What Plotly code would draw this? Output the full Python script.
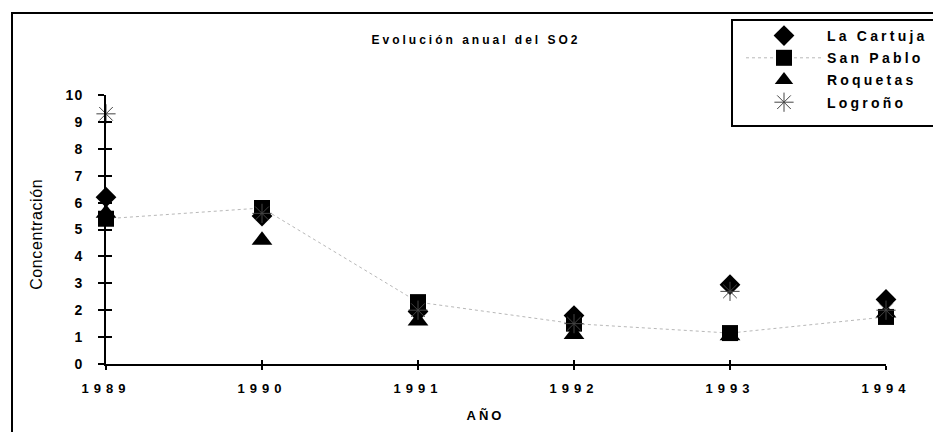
import plotly.graph_objects as go

# data
years = [1989, 1990, 1991, 1992, 1993, 1994]
la_cartuja = [6.2, 5.5, 1.95, 1.8, 2.95, 2.4]
san_pablo = [5.4, 5.8, 2.3, 1.5, 1.15, 1.75]
roquetas = [5.6, 4.6, 1.6, 1.1, 1.05, 1.9]
logrono = [9.3, 5.6, 2.0, 1.5, 2.7, 2.0]
y_ticks = list(range(0, 11))

FONT = 'Arial, Liberation Sans, sans-serif'

# plot area in pixels (933x432 page)
L, R, T, B = 106, 886, 95, 364


def px_x(x):
    return (x - L) / (R - L)


def px_y(y):
    return (B - y) / (B - T)


fig = go.Figure()

fig.add_trace(go.Scatter(
    x=years, y=la_cartuja, name='La Cartuja', mode='markers',
    marker=dict(symbol='diamond', size=16, color='black'),
    legendgroup='a', cliponaxis=False))
fig.add_trace(go.Scatter(
    x=years, y=san_pablo, name='San Pablo', mode='lines+markers',
    line=dict(color='#b8b8b8', width=1, dash='dot'),
    marker=dict(symbol='square', size=16, color='black'),
    legendgroup='b', cliponaxis=False))
fig.add_trace(go.Scatter(
    x=years, y=roquetas, name='Roquetas', mode='markers',
    marker=dict(symbol='triangle-up', size=18, color='black'),
    legendgroup='c', cliponaxis=False))
fig.add_trace(go.Scatter(
    x=years, y=logrono, name='Logroño', mode='markers',
    marker=dict(symbol='asterisk-open', size=16, color='#444444',
                line=dict(color='#444444', width=1)),
    legendgroup='d', cliponaxis=False))
# empty trace so the overlay axes (crossing ticks) get drawn
fig.add_trace(go.Scatter(x=[], y=[], xaxis='x2', yaxis='y2',
                         showlegend=False, hoverinfo='skip'))

axis_common = dict(showgrid=False, zeroline=False, tickcolor='black',
                   tickwidth=1.5)

fig.update_layout(
    width=933, height=432,
    margin=dict(l=L, r=933 - R, t=T, b=432 - B),
    paper_bgcolor='white', plot_bgcolor='white',
    font=dict(family=FONT, color='black'),
    showlegend=True,
    legend=dict(x=px_x(741), y=px_y(20), xanchor='left', yanchor='top',
                bgcolor='rgba(0,0,0,0)', borderwidth=0, itemwidth=76,
                tracegroupgap=1,
                font=dict(family=FONT, size=14, weight='bold')),
    xaxis=dict(range=[1989, 1994], tickvals=years,
               ticktext=[str(y) for y in years],
               showline=True, linecolor='black', linewidth=2,
               ticks='outside', ticklen=4, ticklabelstandoff=7,
               tickfont=dict(size=13, weight='bold'), **axis_common),
    yaxis=dict(range=[0, 10], tickvals=y_ticks,
               showline=True, linecolor='black', linewidth=2,
               ticks='outside', ticklen=6, ticklabelstandoff=12,
               tickfont=dict(size=14, weight='bold'), **axis_common),
    # second pair of axes only to get crossing tick marks
    xaxis2=dict(range=[1989, 1994], tickvals=years, overlaying='x',
                anchor='y2', ticks='inside', ticklen=4,
                showticklabels=False, showline=False, **axis_common),
    yaxis2=dict(range=[0, 10], tickvals=y_ticks, overlaying='y',
                anchor='x2', ticks='inside', ticklen=6,
                showticklabels=False, showline=False, **axis_common),
)

# outer frame and legend box
fig.add_shape(type='rect', xref='paper', yref='paper',
              x0=px_x(12), x1=1.3, y0=-0.6, y1=px_y(13),
              line=dict(color='black', width=2), layer='below')
fig.add_shape(type='rect', xref='paper', yref='paper',
              x0=px_x(732), x1=1.3, y0=px_y(126), y1=px_y(20),
              line=dict(color='black', width=2), fillcolor='white',
              layer='below')

fig.add_annotation(text='Evolución anual del SO2', xref='paper', yref='paper',
                   x=px_x(476), y=px_y(40), xanchor='center', yanchor='middle',
                   showarrow=False, font=dict(size=12, weight='bold'))
fig.add_annotation(text='AÑO', xref='paper', yref='paper',
                   x=px_x(485), y=px_y(415), xanchor='center', yanchor='middle',
                   showarrow=False, font=dict(size=13, weight='bold'))
fig.add_annotation(text='Concentración', xref='paper', yref='paper',
                   x=px_x(37), y=0.48, xanchor='center', yanchor='middle',
                   showarrow=False, textangle=-90, font=dict(size=16))

# the scanned chart uses wide letter spacing on most labels
spacing_js = """
document.body.style.margin = '0';
var gd = document.getElementById('{plot_id}');
function sp(sel, v) {
  gd.querySelectorAll(sel).forEach(function(t) { t.style.letterSpacing = v; });
}
sp('.legendtext', '3.2px');
sp('.xtick text', '5px');
sp('.ytick text', '1px');
var ann = gd.querySelectorAll('.annotation-text');
ann[0].style.letterSpacing = '3px';
ann[1].style.letterSpacing = '3px';
ann[2].style.letterSpacing = '0.6px';
gd.querySelectorAll('.legend [clip-path]').forEach(function(e) {
  e.removeAttribute('clip-path');
});
"""

fig.write_html("out.html", post_script=spacing_js,
               config={'displayModeBar': False})
